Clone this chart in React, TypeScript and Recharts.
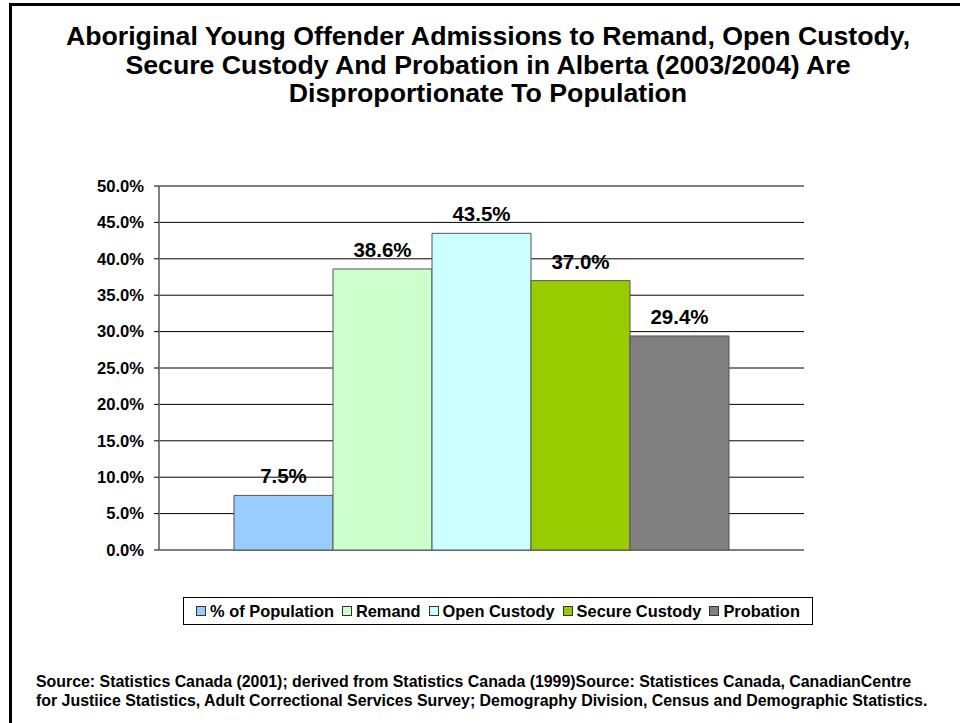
import React from 'react';
import { BarChart, Bar, XAxis, YAxis, CartesianGrid, LabelList } from 'recharts';

const categories = ['2003/2004'];
const seriesNames = ['% of Population', 'Remand', 'Open Custody', 'Secure Custody', 'Probation'];
const seriesKeys = ['population', 'remand', 'openCustody', 'secureCustody', 'probation'];
const seriesValues = [7.5, 38.6, 43.5, 37.0, 29.4];
const seriesColors = ['#99CCFF', '#CCFFCC', '#CCFFFF', '#99CC00', '#808080'];
const yTicks = [0, 5, 10, 15, 20, 25, 30, 35, 40, 45, 50];

const titleLines = [
  'Aboriginal Young Offender Admissions to Remand, Open Custody,',
  'Secure Custody And Probation in Alberta (2003/2004) Are',
  'Disproportionate To Population',
];
const footerLines = [
  'Source: Statistics Canada (2001); derived from Statistics Canada (1999)Source: Statistices Canada, CanadianCentre',
  'for Justiice Statistics, Adult Correctional Services Survey; Demography Division, Census and Demographic Statistics.',
];

const data = categories.map((c) => {
  const row: Record<string, any> = { category: c };
  seriesKeys.forEach((k, i) => (row[k] = seriesValues[i]));
  return row;
});

const FONT = '"Liberation Sans", Arial, Helvetica, sans-serif';
const fmt = (v: number) => `${Number(v).toFixed(1)}%`;

const BarLabel = (props: any) => {
  const { x, y, width, value } = props;
  return (
    <text
      x={Number(x) + Number(width) / 2}
      y={Number(y) - 12}
      textAnchor="middle"
      fill="#000"
      fontWeight="bold"
      fontSize={20.5}
      fontFamily={FONT}
    >
      {fmt(value)}
    </text>
  );
};

const LegendBox = () => (
  <div
    style={{
      position: 'absolute',
      left: 183,
      top: 597,
      width: 628,
      height: 26,
      border: '1px solid #000',
      display: 'flex',
      alignItems: 'center',
      justifyContent: 'center',
      background: '#fff',
    }}
  >
    <div
      style={{
        display: 'flex',
        alignItems: 'center',
        gap: 8,
        fontFamily: FONT,
        fontWeight: 'bold',
        fontSize: 16.4,
        color: '#000',
        whiteSpace: 'nowrap',
      }}
    >
      {seriesNames.map((n, i) => (
        <span key={n} style={{ display: 'flex', alignItems: 'center', whiteSpace: 'nowrap' }}>
          <span
            style={{
              display: 'inline-block',
              width: 8,
              height: 8,
              background: seriesColors[i],
              border: '1px solid #333',
              marginRight: 4,
            }}
          />
          {n}
        </span>
      ))}
    </div>
  </div>
);

export default function App() {
  return (
    <div
      style={{
        position: 'absolute',
        left: 0,
        top: 0,
        width: 960,
        height: 723,
        background: '#fff',
        overflow: 'hidden',
        fontFamily: FONT,
      }}
    >
      <div
        style={{
          position: 'absolute',
          left: 9,
          top: 3,
          width: 1000,
          height: 800,
          borderLeft: '3px solid #000',
          borderTop: '3px solid #000',
        }}
      />
      <div
        style={{
          position: 'absolute',
          left: 0,
          top: 22,
          width: 976,
          textAlign: 'center',
          fontWeight: 'bold',
          fontSize: 26.7,
          lineHeight: '28.5px',
          color: '#000',
        }}
      >
        {titleLines.map((l) => (
          <div key={l} style={{ whiteSpace: 'nowrap' }}>{l}</div>
        ))}
      </div>
      <div style={{ position: 'absolute', left: 0, top: 0 }}>
        <BarChart
          width={960}
          height={723}
          data={data}
          margin={{ top: 186, right: 156, bottom: 153, left: 0 }}
          barCategoryGap={75}
          barGap={0}
        >
          <CartesianGrid horizontal={true} vertical={false} stroke="#000" strokeWidth={1} />
          <XAxis dataKey="category" hide />
          <XAxis
            xAxisId="frame"
            type="number"
            domain={[0, 1]}
            ticks={[0, 1]}
            tick={false}
            tickLine={{ stroke: '#808080' }}
            axisLine={false}
            tickSize={5}
            height={20}
          />
          <YAxis
            width={159}
            domain={[0, 50]}
            ticks={yTicks}
            tickFormatter={fmt}
            tickSize={5}
            tickMargin={10}
            tickLine={{ stroke: '#000' }}
            axisLine={{ stroke: '#808080', strokeWidth: 2 }}
            tick={{ fill: '#000', fontWeight: 'bold', fontSize: 16.6, fontFamily: FONT }}
            interval={0}
          />
          {seriesKeys.map((k, i) => (
            <Bar
              key={k}
              dataKey={k}
              name={seriesNames[i]}
              fill={seriesColors[i]}
              stroke="#555"
              strokeWidth={1}
              isAnimationActive={false}
            >
              <LabelList dataKey={k} content={<BarLabel />} />
            </Bar>
          ))}
        </BarChart>
      </div>
      <LegendBox />
      <div
        style={{
          position: 'absolute',
          left: 36,
          top: 672,
          fontWeight: 'bold',
          fontSize: 15.9,
          lineHeight: '19px',
          color: '#000',
        }}
      >
        {footerLines.map((l) => (
          <div key={l} style={{ whiteSpace: 'nowrap' }}>{l}</div>
        ))}
      </div>
    </div>
  );
}
